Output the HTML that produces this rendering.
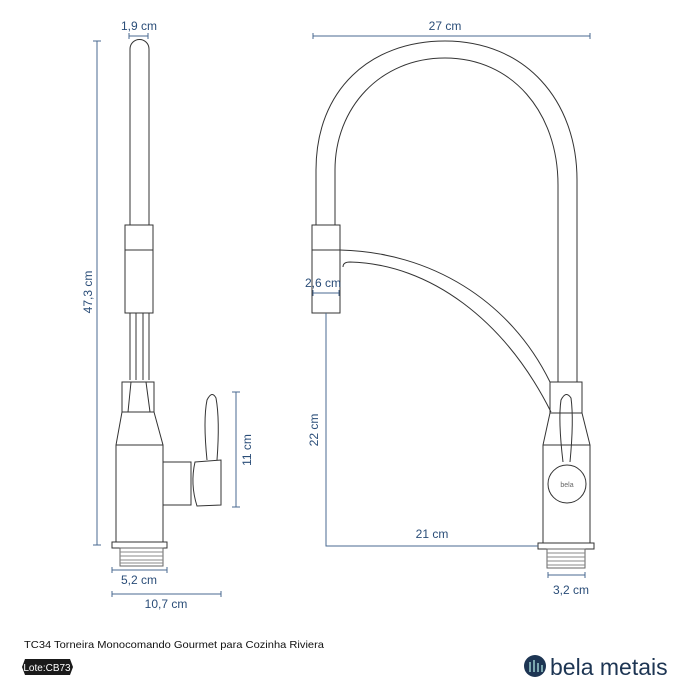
<!DOCTYPE html>
<html><head><meta charset="utf-8"><style>
body{margin:0;background:#fff;}
svg{display:block;}
</style></head><body>
<svg width="700" height="700" viewBox="0 0 700 700" xmlns="http://www.w3.org/2000/svg" font-family="Liberation Sans, sans-serif">
<g fill="none" stroke="#333" stroke-width="1">
<!-- LEFT faucet -->
<path d="M130,225 V49 A9.5,9.5 0 0 1 149,49 V225"/>
<rect x="125" y="225" width="28" height="88"/>
<line x1="125" y1="250" x2="153" y2="250"/>
<path d="M130,313 V380 M136,313 V380 M143,313 V380 M149,313 V380"/>
<rect x="122" y="382" width="32" height="30"/>
<path d="M131,382 L128,412 M146,382 L150,412"/>
<path d="M122,412 L116,445 V542 M154,412 L163,445 V542"/>
<line x1="116" y1="445" x2="163" y2="445"/>
<rect x="112" y="542" width="55" height="6"/>
<rect x="120" y="548" width="43" height="18" stroke="#666"/>
<path d="M120,552H163M120,556H163M120,560H163M120,563H163" stroke="#888"/>
<rect x="163" y="462" width="28" height="43"/>
<path d="M195,462 L221,460 V505 L197,506 Q190,484 195,462Z"/>
<path d="M207,460 Q203,420 207,400 Q212,390 216,398 Q220,420 217,460"/>
<!-- RIGHT faucet -->
<path d="M316,225 V170 C316,90 370,41 445,41 C525,41 577,100 577,180 V382"/>
<path d="M335,225 V170 C335,108 380,58 445,58 C512,58 558,112 558,185 V382"/>
<rect x="312" y="225" width="28" height="88"/>
<line x1="312" y1="250" x2="340" y2="250"/>
<path d="M340,250 C430,252 510,300 550,382"/>
<path d="M343,267 Q343,262 350,262 C430,264 505,320 551,412"/>
<rect x="550" y="382" width="32" height="31"/>
<path d="M550,413 L543,445 V543 M582,413 L590,445 V543"/>
<line x1="543" y1="445" x2="590" y2="445"/>
<circle cx="567" cy="484" r="19"/>
<rect x="538" y="543" width="56" height="6"/>
<rect x="547" y="549" width="38" height="19" stroke="#666"/>
<path d="M547,553H585M547,557H585M547,561H585M547,565H585" stroke="#888"/>
<path d="M563,462 Q558,420 561,400 Q566,390 571,398 Q574,420 570,462"/>
</g>
<text x="567" y="487" font-size="7" fill="#666" text-anchor="middle">bela</text>
<!-- dimensions -->
<g stroke="#4a6a90" stroke-width="1" fill="none">
<path d="M97,41V545 M93,41H101 M93,545H101"/>
<path d="M129,36H148 M129,33V39 M148,33V39"/>
<path d="M236,392V507 M232,392H240 M232,507H240"/>
<path d="M112,570H167 M112,567V573 M167,567V573"/>
<path d="M112,594H221 M112,591V597 M221,591V597"/>
<path d="M313,36H590 M313,33V39 M590,33V39"/>
<path d="M313,293H339 M313,290V296 M339,290V296"/>
<path d="M326,313V546 H538"/>
<path d="M548,575H585 M548,572V578 M585,572V578"/>
</g>
<g fill="#2a4d78" font-size="12">
<text x="139" y="30" text-anchor="middle">1,9 cm</text>
<text transform="translate(92,292) rotate(-90)" text-anchor="middle">47,3 cm</text>
<text transform="translate(251,450) rotate(-90)" text-anchor="middle">11 cm</text>
<text x="139" y="584" text-anchor="middle">5,2 cm</text>
<text x="166" y="608" text-anchor="middle">10,7 cm</text>
<text x="445" y="30" text-anchor="middle">27 cm</text>
<text x="323" y="287" text-anchor="middle">2,6 cm</text>
<text transform="translate(318,430) rotate(-90)" text-anchor="middle">22 cm</text>
<text x="432" y="538" text-anchor="middle">21 cm</text>
<text x="571" y="594" text-anchor="middle">3,2 cm</text>
</g>
<!-- footer -->
<text x="24" y="648" font-size="10.5" fill="#111" textLength="300" lengthAdjust="spacingAndGlyphs">TC34 Torneira Monocomando Gourmet para Cozinha Riviera</text>
<path d="M25,659 H70 L73,667 L70,675 H25 L22,667Z" fill="#1a1a1a"/>
<text x="47" y="671" font-size="10" fill="#fff" text-anchor="middle">Lote:CB73</text>
<circle cx="535" cy="666" r="11" fill="#1d3553"/>
<path d="M530,672V662 M534,672V660 M538,672V663 M542,672V665" stroke="#9cc" stroke-width="1.5"/>
<text x="550" y="675" font-size="23" fill="#1d3553">bela metais</text>
</svg>
</body></html>
